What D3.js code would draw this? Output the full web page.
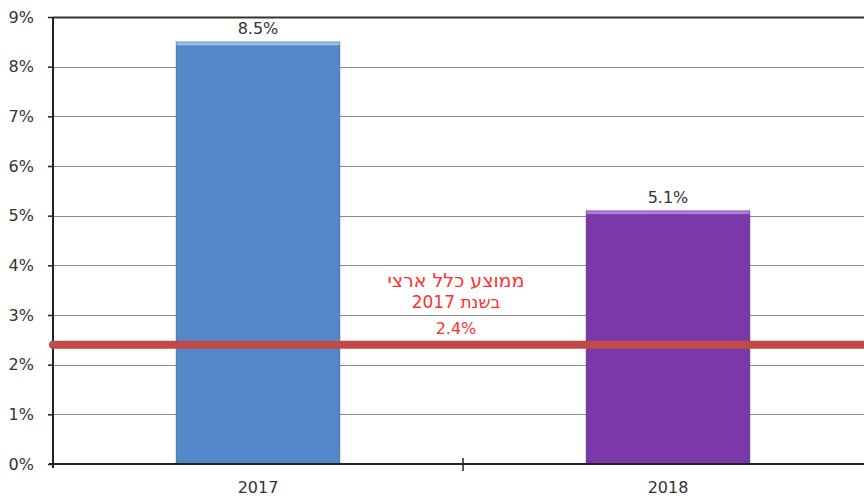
<!DOCTYPE html>
<html>
<head>
<meta charset="utf-8">
<script src="https://cdn.jsdelivr.net/npm/d3@7"></script>
<style>
  body { margin: 0; background: #fff; }
  text { font-family: "DejaVu Sans", sans-serif; }
</style>
</head>
<body>
<script>
// data
const years = ["2017", "2018"];
const rates = [8.5, 5.1];
const yTicks = [0, 1, 2, 3, 4, 5, 6, 7, 8, 9];
const nationalAvg = 2.4;
const avgLabel = ["ממוצע כלל ארצי", "בשנת 2017", "2.4%"];

const barColors = ["#5588c8", "#7a38a8"];
const barTops = ["#9cc0ec", "#b27ad8"];

const W = 864, H = 497;
const margin = { top: 17, left: 53, bottom: 33 };

const svg = d3.select("body").append("svg")
    .attr("width", W)
    .attr("height", H);

const x = d3.scaleBand()
    .domain(years)
    .range([margin.left, margin.left + 820])
    .paddingInner(0.6)
    .paddingOuter(0.3);

const y = d3.scaleLinear()
    .domain([0, 9])
    .range([H - margin.bottom, margin.top]);

// gridlines
svg.append("g")
    .selectAll("line")
    .data(yTicks.slice(1))
    .join("line")
    .attr("x1", margin.left)
    .attr("x2", W)
    .attr("y1", d => Math.round(y(d)) + 0.5)
    .attr("y2", d => Math.round(y(d)) + 0.5)
    .attr("stroke", d => d === 9 ? "#333" : "#8c8c8c")
    .attr("stroke-width", d => d === 9 ? 2 : 1);

// bars
const bars = svg.append("g")
    .selectAll("g")
    .data(years)
    .join("g");

bars.append("rect")
    .attr("x", d => x(d))
    .attr("y", (d, i) => y(rates[i]))
    .attr("width", x.bandwidth())
    .attr("height", (d, i) => y(0) - y(rates[i]))
    .attr("fill", (d, i) => barColors[i])
    .attr("stroke", "#4a4a6a")
    .attr("stroke-opacity", 0.35)
    .attr("stroke-width", 1);

bars.append("rect")
    .attr("x", d => x(d) + 0.5)
    .attr("y", (d, i) => y(rates[i]) + 0.5)
    .attr("width", x.bandwidth() - 1)
    .attr("height", 3)
    .attr("fill", (d, i) => barTops[i]);

// value labels
bars.append("text")
    .attr("x", d => x(d) + x.bandwidth() / 2)
    .attr("y", (d, i) => y(rates[i]) - 8)
    .attr("text-anchor", "middle")
    .attr("font-size", 16)
    .attr("fill", "#333")
    .text((d, i) => rates[i].toFixed(1) + "%");

// y axis
const yAxis = d3.axisLeft(y)
    .tickValues(yTicks)
    .tickSize(5)
    .tickPadding(14)
    .tickFormat(d => d + "%");

const gy = svg.append("g")
    .attr("transform", `translate(${margin.left},0)`)
    .call(yAxis);
gy.select(".domain")
    .attr("stroke", "#222")
    .attr("stroke-width", 2)
    .attr("d", `M0,${y(9)}V${y(0) + 4}`);
gy.selectAll(".tick line").attr("stroke", "#222").attr("stroke-width", 1.5);
gy.selectAll(".tick text")
    .attr("font-family", "DejaVu Sans, sans-serif")
    .attr("font-size", 16)
    .attr("fill", "#333");

// x axis
svg.append("line")
    .attr("x1", margin.left - 4)
    .attr("x2", W)
    .attr("y1", y(0))
    .attr("y2", y(0))
    .attr("stroke", "#222")
    .attr("stroke-width", 2);

// divider tick between categories
svg.append("line")
    .attr("x1", x.step() + margin.left)
    .attr("x2", x.step() + margin.left)
    .attr("y1", y(0) - 6)
    .attr("y2", y(0) + 7)
    .attr("stroke", "#222")
    .attr("stroke-width", 1.5);

svg.append("g")
    .selectAll("text")
    .data(years)
    .join("text")
    .attr("x", d => x(d) + x.bandwidth() / 2)
    .attr("y", H - 4)
    .attr("text-anchor", "middle")
    .attr("font-size", 16)
    .attr("fill", "#333")
    .text(d => d);

// national average line
svg.append("line")
    .attr("x1", margin.left)
    .attr("x2", W + 10)
    .attr("y1", y(nationalAvg))
    .attr("y2", y(nationalAvg))
    .attr("stroke", "#c04a47")
    .attr("stroke-width", 8)
    .attr("stroke-linecap", "round");

svg.append("g")
    .selectAll("text")
    .data(avgLabel)
    .join("text")
    .attr("x", 456)
    .attr("y", (d, i) => [287, 308, 334][i])
    .attr("text-anchor", "middle")
    .attr("font-size", (d, i) => [19, 17, 16][i])
    .attr("fill", "#ff3030")
    .text(d => d);
</script>
</body>
</html>
